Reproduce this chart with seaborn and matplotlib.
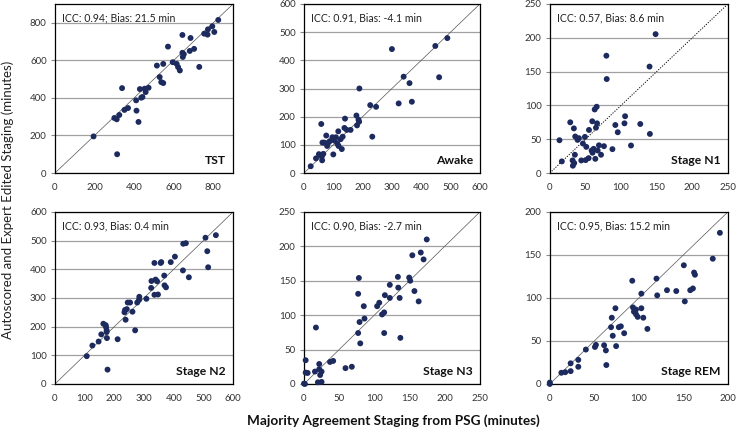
import matplotlib
matplotlib.use("Agg")
import matplotlib.pyplot as plt
import seaborn as sns
import pandas as pd

# ---------------- data ----------------
tst_x = [195, 314, 339, 300, 312, 325, 351, 369, 410, 412, 422, 429, 436, 442, 453, 458, 473,
         515, 529, 537, 547, 547, 571, 595, 615, 622, 631, 644, 644, 646, 651, 681, 685, 703,
         729, 754, 771, 773, 795, 805, 825]
tst_y = [195, 100, 452, 293, 286, 309, 336, 346, 387, 332, 272, 447, 401, 405, 449, 431, 454,
         572, 511, 484, 479, 581, 673, 590, 581, 564, 546, 735, 640, 618, 633, 650, 719, 661,
         565, 742, 737, 765, 781, 751, 815]

awake_x = [23, 41, 51, 54, 59, 61, 63, 62, 66, 69, 76, 79, 83, 88, 97, 100, 104, 109, 114, 117,
           118, 125, 129, 132, 138, 140, 146, 159, 179, 181, 186, 188, 189, 226, 233, 246, 300,
           323, 340, 360, 368, 448, 461, 489]
awake_y = [24, 52, 67, 64, 174, 59, 108, 45, 68, 108, 133, 96, 108, 113, 127, 66, 115, 127, 104,
           148, 96, 120, 85, 129, 160, 193, 153, 153, 204, 169, 189, 182, 300, 241, 129, 235, 440,
           247, 342, 319, 253, 451, 340, 479]

n1_x = [13.6, 16.9, 28.7, 32, 32.4, 33.8, 34.3, 35.2, 35.7, 39, 40.9, 44.2, 46.5, 49.3, 50.3,
        51.2, 54.5, 55, 58.7, 59.6, 60, 61.6, 63, 63.9, 64.8, 65.8, 66.3, 67.2, 69, 71.9, 76,
        79.4, 79.9, 87.9, 92, 95.4, 104.8, 105.7, 114, 127, 140.5, 140, 148.5]
n1_y = [48.5, 17.2, 75, 18.6, 10.8, 66, 14.7, 27, 54, 49, 51.5, 18.6, 43.6, 53.4, 19.1, 38.7,
        22, 63.7, 33.3, 76.5, 30, 35.8, 94, 21, 67, 98, 73.5, 33.3, 41, 27, 39.7, 173.5, 139,
        35.3, 71, 60.3, 73.5, 84, 40.7, 72.5, 57.8, 157.4, 205.4]

n2_x = [107, 126, 147, 156, 163, 171, 172, 174, 174, 175, 177, 211, 234, 236, 238, 242, 245,
        253, 261, 270, 277, 283, 284, 308, 324, 325, 335, 335, 339, 344, 347, 356, 358, 368,
        369, 374, 390, 404, 431, 432, 441, 451, 507, 513, 516, 542]
n2_y = [97, 134, 148, 173, 210, 205, 198, 187, 181, 160, 50, 156, 250, 258, 224, 261, 284,
        284, 252, 187, 284, 293, 304, 297, 335, 359, 311, 422, 364, 358, 312, 422, 425, 378,
        344, 337, 425, 444, 396, 489, 491, 372, 510, 463, 407, 519]

n3_x = [0, 1.4, 2.4, 2.4, 5.2, 15.6, 17, 19.8, 21.7, 21.7, 23, 25, 25, 37, 41.5, 59, 68, 77,
        77, 78, 79, 80, 85, 86, 104, 107, 111, 114, 114, 115, 122, 122, 133.5, 134, 136, 137,
        149.5, 151, 154, 157, 163, 166, 170, 174.5]
n3_y = [0.5, 0, 34.5, 16.5, 16, 18, 82, 2.4, 29, 21.4, 13, 18, 3, 32, 33.5, 23, 25, 74, 131,
        154, 90, 59, 113, 95, 113, 118, 101, 104, 74, 129, 144, 125, 155.6, 140, 125, 67,
        154.6, 150, 187, 135, 120, 191, 181, 210]

rem_x = [0, 0, 13, 17.4, 23.4, 23.4, 32, 32, 40.5, 50.7, 51.8, 61, 63, 63.5, 68.8, 69.6, 70.7,
         73.7, 74.5, 77.5, 79.8, 83.5, 92.6, 93.4, 94.5, 96.8, 96.8, 98.7, 102.8, 102.8, 105,
         109.6, 119.8, 120.6, 131.6, 142, 150.5, 151.6, 157.7, 160.7, 162, 163, 183, 191]
rem_y = [1.6, 0, 13, 13.7, 14.9, 24, 20, 28, 40, 43, 45.4, 45, 39, 22, 66, 77, 56, 88, 44, 66,
         67, 59, 120, 89, 84, 86.5, 81, 78, 88, 105, 77, 64, 122.5, 103, 109, 108, 138, 96, 109,
         111, 129.5, 127, 145.6, 175.7]

panel_names = ["TST", "Awake", "Stage N1", "Stage N2", "Stage N3", "Stage REM"]
panel_stats = ["ICC: 0.94; Bias: 21.5 min", "ICC: 0.91, Bias: -4.1 min", "ICC: 0.57, Bias: 8.6 min",
               "ICC: 0.93, Bias: 0.4 min", "ICC: 0.90, Bias: -2.7 min", "ICC: 0.95, Bias: 15.2 min"]
panel_max = [900, 600, 250, 600, 250, 200]
panel_step = [200, 100, 50, 100, 50, 50]
xs = [tst_x, awake_x, n1_x, n2_x, n3_x, rem_x]
ys = [tst_y, awake_y, n1_y, n2_y, n3_y, rem_y]

x_label = "Majority Agreement Staging from PSG (minutes)"
y_label = "Autoscored and Expert Edited Staging (minutes)"

# ---------------- style ----------------
sns.set_style("white")
plt.rcParams["font.family"] = ["Lato", "DejaVu Sans"]

fig = plt.figure(figsize=(7.36, 4.29), dpi=100)

lefts = [0.0747, 0.413, 0.747]
widths = [0.242, 0.239, 0.242]
bottoms = [0.5967, 0.105]
heights = [0.394, 0.401]

dot_color = "#1c2a5e"

for i in range(6):
    r, c = divmod(i, 3)
    ax = fig.add_axes([lefts[c], bottoms[r], widths[c], heights[r]])
    df = pd.DataFrame({"x": xs[i], "y": ys[i]})
    m = panel_max[i]
    st = panel_step[i]
    ticks = list(range(0, m + 1, st))
    ax.set_xlim(0, m)
    ax.set_ylim(0, m)
    ax.set_xticks(ticks)
    ax.set_yticks(ticks)
    ax.yaxis.grid(True, color="#a0a0a0", linewidth=0.9)
    ax.xaxis.grid(False)
    ax.set_axisbelow(True)
    if i == 2:
        ax.plot([0, m], [0, m], color="black", linewidth=0.7, linestyle=(0, (1.2, 1.5)), zorder=2)
    else:
        ax.plot([0, m], [0, m], color="#555555", linewidth=0.5, zorder=2)
    sns.scatterplot(data=df, x="x", y="y", ax=ax, color=dot_color, s=18,
                    edgecolor="none", linewidth=0, zorder=3, clip_on=False)
    ax.set_xlabel("")
    ax.set_ylabel("")
    for sp in ax.spines.values():
        sp.set_visible(True)
        sp.set_color("black")
        sp.set_linewidth(0.9)
    ax.tick_params(axis="x", length=0, labelsize=7, colors="#333333", pad=7)
    ax.tick_params(axis="y", length=3, width=0.8, labelsize=7, colors="#333333",
                   labelcolor="#333333", pad=3, left=True, direction="out")
    ax.tick_params(axis="y", color="#888888")
    ax.text(0.04, 0.95, panel_stats[i], transform=ax.transAxes, ha="left", va="top",
            fontsize=7.6, color="#222222")
    ax.text(0.96, 0.04, panel_names[i], transform=ax.transAxes, ha="right", va="bottom",
            fontsize=8.7, fontweight="bold", color="#111111")

fig.text(0.534, 0.019, x_label, ha="center", va="center", fontsize=9.8, fontweight="bold",
         color="#111111")
fig.text(0.011, 0.534, y_label, ha="center", va="center", rotation=90, fontsize=9.5,
         color="#222222")

fig.savefig("out.png", dpi=100)
